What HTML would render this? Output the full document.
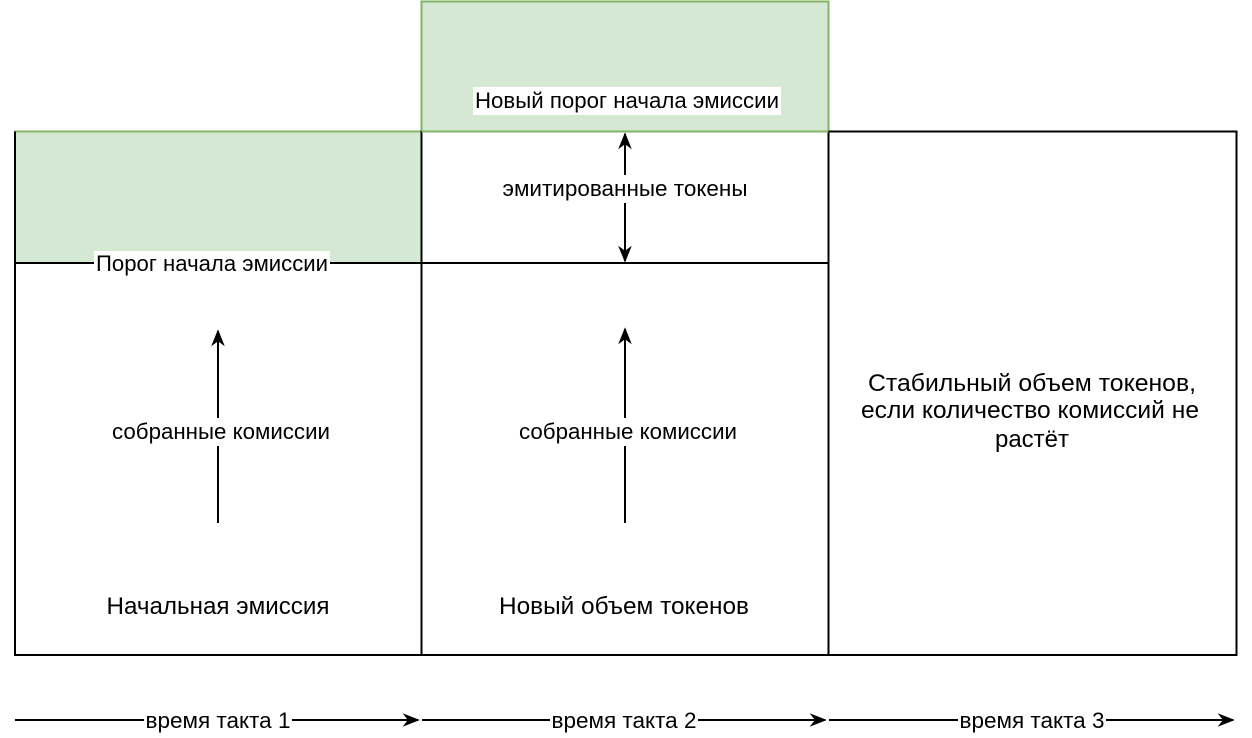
<!DOCTYPE html>
<html><head><meta charset="utf-8"><style>
html,body{margin:0;padding:0;background:#fff;width:1252px;height:738px;overflow:hidden}
svg{display:block}
text{font-family:"Liberation Sans",Helvetica,Arial,sans-serif;fill:#000}
</style></head><body>
<svg width="1252" height="738" viewBox="0 0 1252 738" xmlns="http://www.w3.org/2000/svg">
<defs>
<marker id="b" viewBox="0 0 10 10" refX="9" refY="5" markerWidth="17" markerHeight="17" markerUnits="userSpaceOnUse" orient="auto">
<path d="M0,1 L10,5 L0,9 L3,5 z" fill="#000"/></marker>
</defs>
<rect x="421.5" y="1.5" width="407" height="130" fill="#d5e8d4" stroke="#82b366" stroke-width="2"/>
<rect x="15" y="131.5" width="406.5" height="132" fill="#d5e8d4" stroke="#82b366" stroke-width="2"/>
<rect x="15" y="263" width="406.5" height="392" fill="#fff" stroke="#000" stroke-width="2"/>
<rect x="421.5" y="131.5" width="407" height="523.5" fill="#fff" stroke="#000" stroke-width="2"/>
<line x1="421.5" y1="263" x2="828.5" y2="263" stroke="#000" stroke-width="2"/>
<rect x="828.5" y="131.5" width="408" height="523.5" fill="#fff" stroke="#000" stroke-width="2"/>
<line x1="15" y1="131.5" x2="15" y2="263" stroke="#000" stroke-width="2"/>
<line x1="421.5" y1="131.5" x2="421.5" y2="263" stroke="#000" stroke-width="2"/>
<line x1="421.5" y1="131.5" x2="828.5" y2="131.5" stroke="#82b366" stroke-width="2"/>

<rect x="94" y="251" width="236" height="24" fill="#fff"/>
<text x="212" y="271" font-size="22" text-anchor="middle" textLength="232" lengthAdjust="spacingAndGlyphs">Порог начала эмиссии</text>
<rect x="473" y="87" width="308" height="28" fill="#fff"/>
<text x="627" y="108" font-size="22" text-anchor="middle" textLength="304" lengthAdjust="spacingAndGlyphs">Новый порог начала эмиссии</text>

<line x1="218" y1="523" x2="218" y2="331" stroke="#000" stroke-width="2" marker-end="url(#b)"/>
<rect x="110" y="418" width="222" height="28" fill="#fff"/>
<text x="221" y="439" font-size="22" text-anchor="middle" textLength="218" lengthAdjust="spacingAndGlyphs">собранные комиссии</text>
<line x1="625" y1="523" x2="625" y2="329" stroke="#000" stroke-width="2" marker-end="url(#b)"/>
<rect x="517" y="418" width="222" height="28" fill="#fff"/>
<text x="628" y="439" font-size="22" text-anchor="middle" textLength="218" lengthAdjust="spacingAndGlyphs">собранные комиссии</text>
<line x1="625" y1="200" x2="625" y2="134" stroke="#000" stroke-width="2" marker-end="url(#b)"/>
<line x1="625" y1="180" x2="625" y2="261" stroke="#000" stroke-width="2" marker-end="url(#b)"/>
<rect x="500" y="175" width="250" height="28" fill="#fff"/>
<text x="625" y="196" font-size="22" text-anchor="middle" textLength="245" lengthAdjust="spacingAndGlyphs">эмитированные токены</text>

<text x="218" y="614" font-size="24" text-anchor="middle" textLength="223" lengthAdjust="spacingAndGlyphs">Начальная эмиссия</text>
<text x="624" y="614" font-size="24" text-anchor="middle" textLength="250" lengthAdjust="spacingAndGlyphs">Новый объем токенов</text>
<text x="1032" y="391" font-size="24" text-anchor="middle" textLength="328" lengthAdjust="spacingAndGlyphs">Стабильный объем токенов,</text>
<text x="1030" y="418" font-size="24" text-anchor="middle" textLength="338" lengthAdjust="spacingAndGlyphs">если количество комиссий не</text>
<text x="1032" y="447" font-size="24" text-anchor="middle">растёт</text>

<line x1="15" y1="720" x2="418" y2="720" stroke="#000" stroke-width="2" marker-end="url(#b)"/>
<line x1="422" y1="720" x2="825" y2="720" stroke="#000" stroke-width="2" marker-end="url(#b)"/>
<line x1="829" y1="720" x2="1233" y2="720" stroke="#000" stroke-width="2" marker-end="url(#b)"/>
<rect x="144" y="708" width="148" height="26" fill="#fff"/>
<text x="218" y="728" font-size="22" text-anchor="middle" textLength="145" lengthAdjust="spacingAndGlyphs">время такта 1</text>
<rect x="550" y="708" width="148" height="26" fill="#fff"/>
<text x="624" y="728" font-size="22" text-anchor="middle" textLength="145" lengthAdjust="spacingAndGlyphs">время такта 2</text>
<rect x="958" y="708" width="148" height="26" fill="#fff"/>
<text x="1032" y="728" font-size="22" text-anchor="middle" textLength="145" lengthAdjust="spacingAndGlyphs">время такта 3</text>
</svg>
</body></html>
